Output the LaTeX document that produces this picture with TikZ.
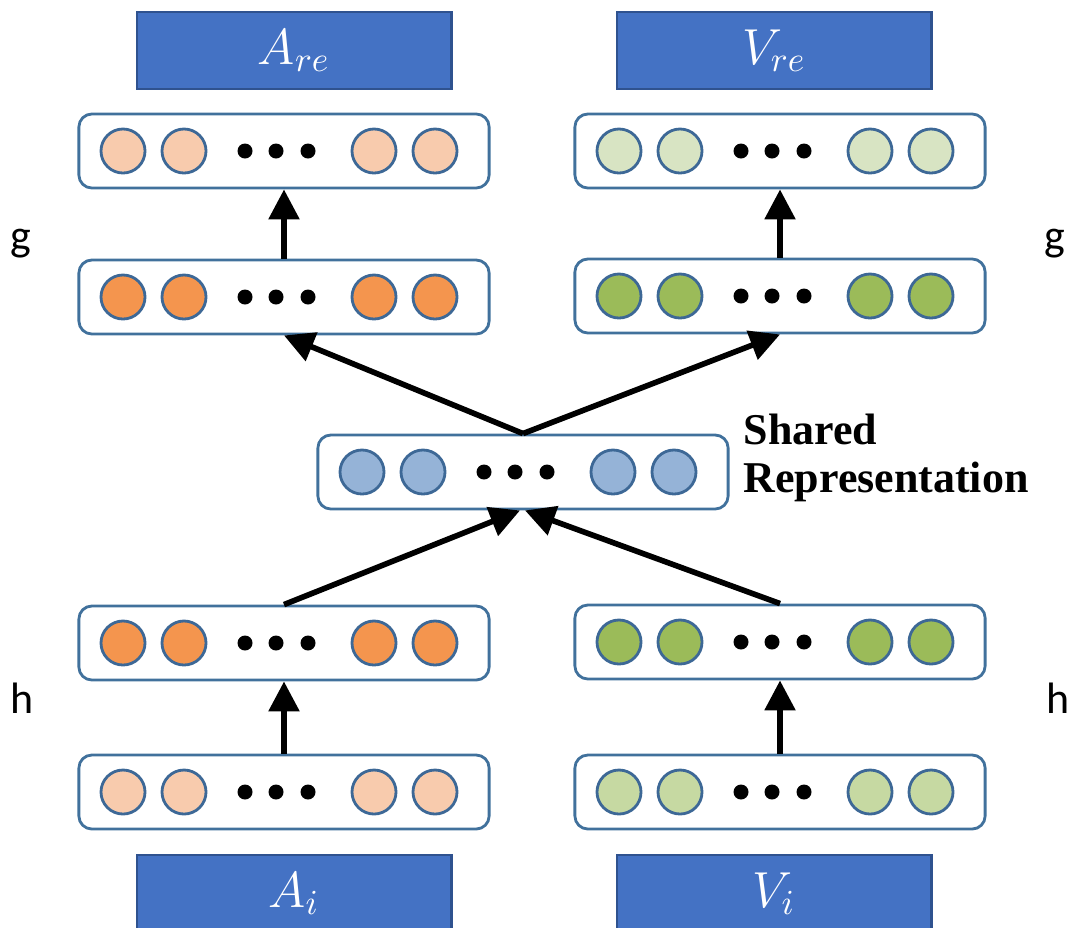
\documentclass[tikz,border=0pt]{standalone}
\usepackage{fontspec}
\usetikzlibrary{arrows.meta}
\newfontfamily\labelfont{Carlito}
\newfontfamily\sharedfont{Liberation Serif}

\definecolor{boxblue}{HTML}{4472C4}
\definecolor{ioedge}{HTML}{2F528F}
\definecolor{rowedge}{HTML}{41719C}
\definecolor{unitedge}{HTML}{3D6896}
\definecolor{lorange}{HTML}{F8CBAD}
\definecolor{dorange}{HTML}{F4954E}
\definecolor{lgreenT}{HTML}{D8E4C3}
\definecolor{lgreenB}{HTML}{C6D9A2}
\definecolor{dgreen}{HTML}{9BBB59}
\definecolor{lblue}{HTML}{95B3D7}

\begin{document}
\begin{tikzpicture}[x=0.01cm,y=-0.01cm,
	layer/.style={draw=rowedge, line width=0.8pt, rounded corners=0.13cm, minimum width=4.1cm, minimum height=0.74cm},
	unit/.style={circle, draw=unitedge, line width=0.8pt, minimum size=0.44cm, inner sep=0pt},
	dot/.style={circle, fill=black, minimum size=0.15cm, inner sep=0pt},
	io/.style={draw=ioedge, fill=boxblue, line width=0.8pt, minimum width=3.14cm, minimum height=0.77cm, text=white, font=\fontsize{14}{16}\selectfont},
	arr/.style={line width=1.6pt, -{Triangle[length=8.5pt,width=8.5pt]}}]
			\useasboundingbox (0,0) rectangle (1071,927);

			\node[io] (Are) at (294,50.5) {$A_{re}$};
			\node[io] (Vre) at (774,50.5) {$V_{re}$};
			\node[io] (Ai) at (294,893.5) {$A_i$};
			\node[io] (Vi) at (774,893.5) {$V_i$};

			% rows of units
			\foreach \name/\x/\y/\col in {ta/284/151/lorange, tv/780/151/lgreenT,
				ga/284/297/dorange, gv/780/296/dgreen, sh/523/472/lblue,
				ha/284/643/dorange, hv/780/642/dgreen, ba/284/792/lorange, bv/780/792/lgreenB}
			{
				\node[layer] (\name) at (\x,\y) {};
				\foreach \dx [count=\i] in {-161,-100,90,151}
				\node[unit, fill=\col] (\name-u\i) at (\x+\dx,\y) {};
				\foreach \dx [count=\i] in {-39,-8,24}
				\node[dot] (\name-d\i) at (\x+\dx,\y) {};
			}

			\node[anchor=west, align=left, inner sep=0pt, font=\sharedfont\bfseries\fontsize{12.5}{13.5}\selectfont] (shtext) at (743,458) {Shared\\Representation};

			\node[anchor=base, font=\labelfont\fontsize{12.5}{14}\selectfont] (gl) at (21,250) {g};
			\node[anchor=base, font=\labelfont\fontsize{12.5}{14}\selectfont] (gr) at (1055,250) {g};
			\node[anchor=base, font=\labelfont\fontsize{12.5}{14}\selectfont] (hl) at (22,713) {h};
			\node[anchor=base, font=\labelfont\fontsize{12.5}{14}\selectfont] (hr) at (1058,713) {h};

			\draw[arr] (ba.north) -- (ha.south);
			\draw[arr] (bv.north) -- (hv.south);
			\draw[arr] (ha.north) -- ([xshift=-0.03cm]sh.south);
			\draw[arr] (hv.north) -- ([xshift=0.02cm]sh.south);
			\draw[arr] (sh.north) -- (ga.south);
			\draw[arr] (sh.north) -- (gv.south);
			\draw[arr] (ga.north) -- (ta.south);
			\draw[arr] (gv.north) -- (tv.south);
		\end{tikzpicture}
\end{document}
